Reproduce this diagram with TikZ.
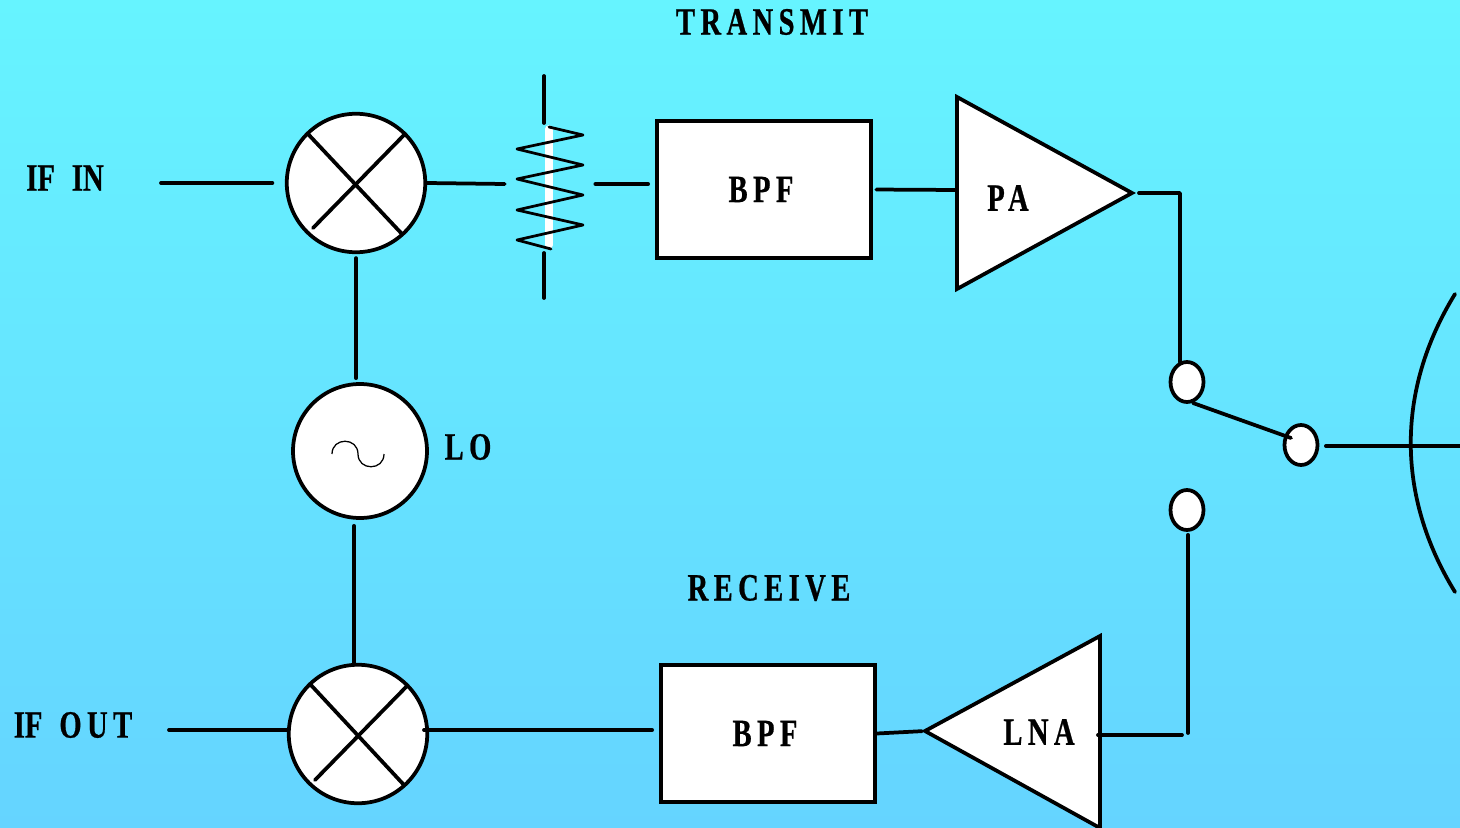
\documentclass[tikz,border=0pt]{standalone}
\usepackage{fontspec}
\setmainfont[FakeStretch=0.74, LetterSpace=14, BoldFeatures={FakeBold=0.6}]{Liberation Serif}
\newfontfamily\tightfont[FakeStretch=0.74, BoldFeatures={FakeBold=0.6}]{Liberation Serif}
\usetikzlibrary{calc,shapes.geometric}
\definecolor{skytop}{RGB}{102,244,255}
\definecolor{skybottom}{RGB}{101,212,255}
\tikzset{
	wire/.style={line width=0.75mm, line cap=round, line join=round},
	part/.style={draw, fill=white, line width=0.75mm, inner sep=0},
	mixer/.style={part, circle, minimum size=2.77cm},
	filterbox/.style={part, rectangle, minimum width=4.28cm, minimum height=2.74cm, font=\fontsize{22}{26}\selectfont\bfseries},
	contact/.style={part, ellipse, minimum width=0.66cm, minimum height=0.8cm},
	caption/.style={inner sep=0, font=\fontsize{22}{26}\selectfont\bfseries}
}

\begin{document}
\begin{tikzpicture}[x=0.02cm, y=-0.02cm]
	%%%%% START %%%%%
	\useasboundingbox (0, 0) rectangle (1460, 828);
	\clip (0, 0) rectangle (1460, 828);
	\shade[top color=skytop, bottom color=skybottom] (0, 0) rectangle (1460, 828);

	\node[caption] (transmit) at (772, 22) {TRANSMIT};
	\node[caption] (receive) at (769, 588) {RECEIVE};
	\node[caption] (ifin) at (65, 178) {{\tightfont\bfseries IF\hspace{0.34cm}IN}};
	\node[caption] (ifout) at (73, 725) {{\tightfont\bfseries IF}\hspace{0.34cm}OUT};
	\node[caption] (lolabel) at (468, 447) {LO};

	% mixers and oscillator
	\node[mixer] (mixT) at (356, 183) {};
	\draw[wire] (308, 134) -- (402, 234);
	\draw[wire] (313, 228) -- (405, 134);
	\node[mixer] (mixR) at (358, 734) {};
	\draw[wire] (310, 684) -- (404, 785);
	\draw[wire] (315, 780) -- (407, 686);
	\node[mixer, minimum size=2.68cm] (osc) at (360, 451) {};
	\draw[line width=0.25mm] (332, 454) .. controls (332, 437) and (358, 437) .. (358, 454)
		.. controls (358, 471) and (384, 471) .. (384, 454);

	% attenuator
	\node[minimum width=1.8cm, minimum height=2.4cm, inner sep=0] (attn) at (550, 184) {};
	\draw[line width=1.5mm, color=white, line cap=round] (549, 129) -- (549, 245);
	\draw[line width=0.55mm, line join=round, line cap=round] (549, 127) -- (583, 135) -- (517, 149) -- (583, 165) -- (517, 179)
		-- (583, 195) -- (517, 210) -- (583, 225) -- (517, 240) -- (551, 249);
	\draw[wire] (544, 76) -- (544, 123);
	\draw[wire] (544, 253) -- (544, 298);

	% filters
	\node[filterbox] (bpfT) at (764, 189.5) {BPF\kern0.12cm};
	\node[filterbox] (bpfR) at (768, 733.5) {BPF\kern0.12cm};

	% amplifiers
	\coordinate (paIn) at (957, 190);
	\coordinate (paOut) at (1132, 193);
	\draw[part] (957, 97) -- (paOut) -- (957, 289) -- cycle;
	\node[caption] (pa) at (1008, 198) {PA};
	\coordinate (lnaIn) at (925, 731);
	\coordinate (lnaOut) at (1098, 735);
	\draw[part] (1100, 636) -- (lnaIn) -- (1100, 828) -- cycle;
	\node[caption] (lna) at (1039, 732) {LNA};

	% switch
	\node[contact] (swT) at (1187, 382) {};
	\node[contact] (swC) at (1301, 445) {};
	\node[contact] (swR) at (1187, 510) {};
	\coordinate (armStart) at (1193, 403);
	\coordinate (armEnd) at (1291, 438);
	\coordinate (txDrop) at (1180, 362);
	\coordinate (rxCorner) at (1188, 733);
	\coordinate (rxTurn) at (1182, 735);

	% antenna
	\coordinate (feedEnd) at (1470, 446);
	\draw[wire] (1455, 294) .. controls (1396, 390) and (1396, 496) .. (1455, 592);

	% connectors
	\coordinate (ifinEnd) at (161, 183);
	\coordinate (ifoutEnd) at (169, 730);
	\coordinate (mixOut) at (424, 730);
	\coordinate (oscTap) at (354, 451);
	\draw[wire, shorten >=0.25cm] (ifinEnd) -- (mixT);
	\draw[wire] (ifoutEnd) -- (ifoutEnd -| mixR.west);
	\draw[wire] (mixT.east) -- (attn.west);
	\draw[wire, shorten >=0.14cm] (attn.east) -- (attn.east -| bpfT.west);
	\draw[wire, shorten <=0.07cm] (bpfT.east) -- (paIn);
	\draw[wire, shorten <=0.14cm] (paOut) -| (txDrop);
	\draw[wire] (armStart) -- (armEnd);
	\draw[wire, shorten <=0.13cm] (swC.east |- feedEnd) -- (feedEnd);
	\draw[wire] (lnaOut) -- (rxTurn);
	\draw[wire, shorten <=0.06cm] (rxCorner |- swR.south) -- (rxCorner);
	\draw[wire, shorten >=0.06cm] (bpfR.east) -- (lnaIn);
	\draw[wire, shorten >=0.14cm] (mixOut) -- (mixOut -| bpfR.west);
	\draw[wire, shorten <=0.08cm, shorten >=0.08cm] (mixT.south) -- (mixT.south |- osc.north);
	\draw[wire, shorten <=0.12cm] (oscTap |- osc.south) -- (oscTap |- mixR.north);
	%%%%% END %%%%%
\end{tikzpicture}
\end{document}
